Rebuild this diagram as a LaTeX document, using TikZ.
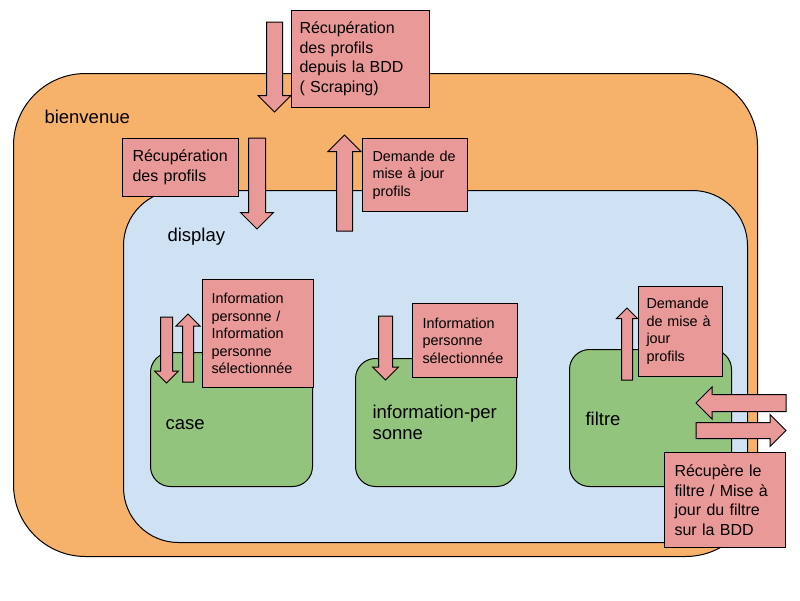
\documentclass[tikz,border=0pt]{standalone}
\usepackage{fontspec}
\setmainfont{Liberation Sans}
\usetikzlibrary{shapes.arrows}

\definecolor{orangefond}{HTML}{F6B26B}
\definecolor{bleufond}{HTML}{CFE2F3}
\definecolor{vertfond}{HTML}{93C47D}
\definecolor{rose}{HTML}{EA9999}

\begin{document}
\begin{tikzpicture}[x=1pt,y=-1pt,line width=1pt,
    zone/.style={draw,anchor=north west,inner sep=0pt},
    titre/.style={anchor=base west,inner sep=0pt,font=\fontsize{18.5}{21}\selectfont},
    etiquette/.style={draw,fill=rose,anchor=north west,align=left,inner ysep=2pt,font=\fontsize{16}{19.5}\selectfont},
    petite/.style={etiquette,font=\fontsize{14.4}{17.5}\selectfont},
    fleche/.style n args={3}{single arrow,draw,fill=rose,anchor=tail,outer sep=0pt,inner xsep=0pt,
      inner ysep=#2/2,minimum height=#1,single arrow head extend=(#3-#2)/2}]
      \useasboundingbox (0,0) rectangle (800,600);

      % les zones
      \node[zone,fill=orangefond,rounded corners=72pt,minimum width=744pt,minimum height=483pt] (bienvenue) at (13,73) {};
      \node[zone,fill=bleufond,rounded corners=55pt,minimum width=624pt,minimum height=352pt] (display) at (123,190) {};
      \node[zone,fill=vertfond,rounded corners=20pt,minimum width=162pt,minimum height=134pt] (case) at (150,352) {};
      \node[zone,fill=vertfond,rounded corners=20pt,minimum width=161pt,minimum height=128pt] (info) at (355,358) {};
      \node[zone,fill=vertfond,rounded corners=20pt,minimum width=162pt,minimum height=137pt] (filtre) at (569,349) {};

      \node[titre] (tbienvenue) at (44,123) {bienvenue};
      \node[titre] (tdisplay) at (167,241) {display};
      \node[titre] (tcase) at (165,429) {case};
      \node[titre,align=left] (tinfo) at (372,439) {information-per\\sonne};
      \node[titre] (tfiltre) at (585,425) {filtre};

      % les fleches (placees par leur queue)
      \node[fleche={90pt}{15pt}{32pt},rotate=-90] (f1) at (274.5,22) {};
      \node[fleche={91pt}{16pt}{32pt},rotate=-90] (f2) at (257,138) {};
      \node[fleche={96pt}{15pt}{32pt},rotate=90] (f3) at (344.5,231) {};
      \node[fleche={66pt}{11pt}{23pt},rotate=-90] (f4) at (166.5,317) {};
      \node[fleche={68pt}{10pt}{23pt},rotate=90] (f5) at (188,382) {};
      \node[fleche={64pt}{13pt}{25pt},rotate=-90] (f6) at (385.5,316) {};
      \node[fleche={72pt}{10pt}{20pt},rotate=90] (f7) at (627,380) {};
      \node[fleche={90pt}{16pt}{31pt},rotate=180] (f8) at (786,403) {};
      \node[fleche={90pt}{15pt}{31pt}] (f9) at (696,430.5) {};

      % les etiquettes
      \node[etiquette,inner xsep=8pt,text width=122pt,minimum height=97pt] (e1) at (291,10)
        {Récupération\\des profils\\depuis la BDD\\( Scraping)};
      \node[etiquette,inner xsep=10pt,text width=96pt,minimum height=58pt] (e2) at (122,138)
        {Récupération\\des profils};
      \node[petite,inner xsep=10pt,text width=85pt,minimum height=73pt] (e3) at (362,138)
        {Demande de\\mise à jour\\profils};
      \node[petite,inner xsep=9pt,text width=93pt,minimum height=108pt] (e4) at (202,279)
        {Information\\personne /\\Information\\personne\\sélectionnée};
      \node[petite,inner xsep=10pt,text width=85pt,minimum height=74pt] (e5) at (412,303)
        {Information\\personne\\sélectionnée};
      \node[petite,inner xsep=8pt,text width=68pt,minimum height=90pt] (e6) at (638,286)
        {Demande\\de mise à\\jour\\profils};
      \node[etiquette,inner xsep=10pt,text width=101pt,minimum height=95pt] (e7) at (664,452)
        {Récupère le\\filtre / Mise à\\jour du filtre\\sur la BDD};
    \end{tikzpicture}
\end{document}
